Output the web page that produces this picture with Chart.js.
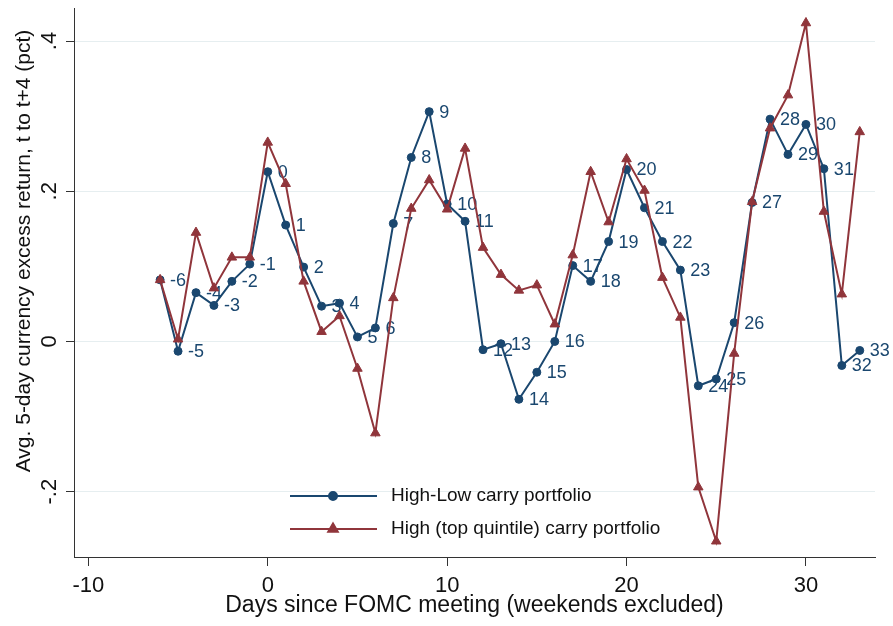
<!DOCTYPE html>
<html><head><meta charset="utf-8">
<script src="https://cdn.jsdelivr.net/npm/chart.js@4.4.1/dist/chart.umd.min.js"></script>
<style>html,body{margin:0;padding:0;background:#fff}canvas{display:block}</style>
</head><body>
<canvas id="c" width="893" height="626" style="width:893px;height:626px"></canvas>
<script>
const days = [-6,-5,-4,-3,-2,-1,0,1,2,3,4,5,6,7,8,9,10,11,12,13,14,15,16,17,18,19,20,21,22,23,24,25,26,27,28,29,30,31,32,33];
const highLow = [0.082,-0.013,0.065,0.048,0.080,0.103,0.226,0.155,0.099,0.047,0.051,0.006,0.018,0.157,0.245,0.306,0.183,0.160,-0.011,-0.003,-0.077,-0.041,0.000,0.101,0.080,0.133,0.229,0.178,0.133,0.095,-0.059,-0.050,0.025,0.185,0.296,0.249,0.289,0.230,-0.032,-0.012];
const highQuintile = [0.082,0.003,0.145,0.071,0.112,0.112,0.265,0.210,0.080,0.013,0.034,-0.036,-0.122,0.058,0.177,0.215,0.176,0.257,0.125,0.089,0.068,0.075,0.023,0.115,0.226,0.159,0.243,0.201,0.085,0.032,-0.194,-0.266,-0.016,0.186,0.284,0.328,0.424,0.173,0.063,0.279];
const xTicks = [-10,0,10,20,30];
const yTicks = [-0.2,0,0.2,0.4];
const yTickLabels = ['-.2','0','.2','.4'];
const seriesNames = ['High-Low carry portfolio','High (top quintile) carry portfolio'];
const xTitle = 'Days since FOMC meeting (weekends excluded)';
const yTitle = 'Avg. 5-day currency excess return, t to t+4 (pct)';

const NAVY = '#1a476f', MAROON = '#90353b';
const FONT = '"Liberation Sans", Arial, Helvetica, sans-serif';

const decor = {
  id: 'decor',
  afterDatasetDraw(chart, args) {
    if (args.index !== 0) return;
    const ctx = chart.ctx, meta = chart.getDatasetMeta(0);
    ctx.save();
    ctx.font = '18px ' + FONT; ctx.fillStyle = NAVY;
    ctx.textAlign = 'left'; ctx.textBaseline = 'middle';
    meta.data.forEach((pt, i) => ctx.fillText(String(days[i]), pt.x + 10, pt.y + 1));
    ctx.restore();
  },
  afterDraw(chart) {
    const ctx = chart.ctx, ys = chart.scales.y, ca = chart.chartArea;
    ctx.save();
    ctx.fillStyle = '#111';
    ctx.font = '22px ' + FONT;
    ctx.textAlign = 'center'; ctx.textBaseline = 'middle';
    yTicks.forEach((v, i) => {
      const py = ys.getPixelForValue(v);
      ctx.save(); ctx.translate(50, py); ctx.rotate(-Math.PI / 2);
      ctx.fillText(yTickLabels[i], 0, 0); ctx.restore();
    });
    ctx.save(); ctx.font = '21px ' + FONT; ctx.translate(24, 251); ctx.rotate(-Math.PI / 2);
    ctx.fillText(yTitle, 0, 0); ctx.restore();
    ctx.font = '23px ' + FONT;
    ctx.fillText(xTitle, (ca.left + ca.right) / 2, 606);
    // legend
    const rows = [496, 529];
    chart.data.datasets.forEach((ds, i) => {
      const y = rows[i];
      ctx.strokeStyle = ds.borderColor; ctx.lineWidth = 2;
      ctx.beginPath(); ctx.moveTo(290, y); ctx.lineTo(377, y); ctx.stroke();
      ctx.fillStyle = ds.borderColor;
      Chart.helpers.drawPoint(ctx, {pointStyle: ds.pointStyle, radius: ds.pointRadius, borderWidth: 1, rotation: 0}, 333, y);
      ctx.fillStyle = '#111'; ctx.font = '19px ' + FONT; ctx.textAlign = 'left';
      ctx.fillText(seriesNames[i], 391, y);
    });
    ctx.restore();
  }
};

new Chart(document.getElementById('c'), {
  type: 'line',
  data: {
    datasets: [
      { label: seriesNames[0], data: days.map((d, i) => ({x: d, y: highLow[i]})),
        borderColor: NAVY, backgroundColor: NAVY, borderWidth: 2, pointStyle: 'circle',
        pointRadius: 4, pointBorderWidth: 1, tension: 0, order: 1 },
      { label: seriesNames[1], data: days.map((d, i) => ({x: d, y: highQuintile[i]})),
        borderColor: MAROON, backgroundColor: MAROON, borderWidth: 2, pointStyle: 'triangle',
        pointRadius: 5.5, pointBorderWidth: 1, tension: 0, order: 0 }
    ]
  },
  options: {
    responsive: false, animation: false, devicePixelRatio: 1,
    layout: { padding: { top: 8, right: 18, left: 0, bottom: 0 } },
    plugins: { legend: { display: false }, tooltip: { enabled: false } },
    scales: {
      x: {
        type: 'linear', min: -10.8, max: 33.85,
        afterBuildTicks: s => { s.ticks = xTicks.map(v => ({value: v})); },
        afterFit: s => { s.height = 69; },
        grid: { drawOnChartArea: false, tickLength: 9, tickColor: '#333', lineWidth: 1 },
        border: { display: true, color: '#333', width: 1 },
        ticks: { font: { size: 22, family: FONT }, color: '#111', padding: 7, maxRotation: 0 }
      },
      y: {
        type: 'linear', min: -0.287, max: 0.444,
        afterBuildTicks: s => { s.ticks = yTicks.map(v => ({value: v})); },
        afterFit: s => { s.width = 74; },
        grid: { color: '#e6eef0', tickLength: 8, tickColor: '#333', lineWidth: 1 },
        border: { display: true, color: '#333', width: 1 },
        ticks: { display: false }
      }
    }
  },
  plugins: [decor]
});
</script>
</body></html>
